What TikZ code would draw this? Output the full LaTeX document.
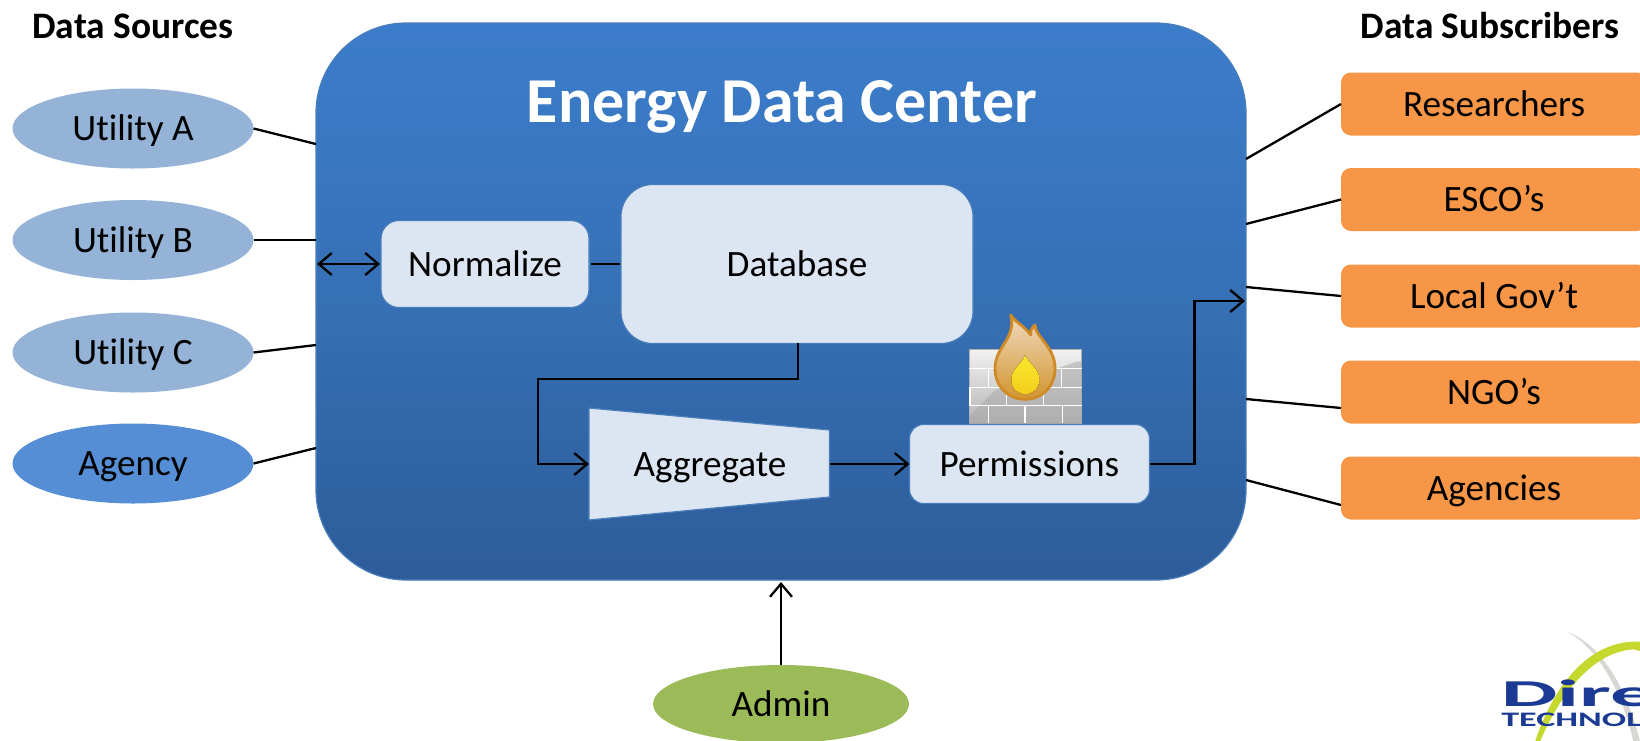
\documentclass[tikz,border=0pt]{standalone}
\usepackage{fontspec}
\setmainfont{Carlito}[RawFeature={-liga}]
\usetikzlibrary{arrows.meta,shapes.geometric,calc}
\definecolor{boxfill}{HTML}{DCE6F2}
\definecolor{boxline}{HTML}{4A7EBB}
\definecolor{util}{HTML}{95B3D7}
\definecolor{agency}{HTML}{558ED5}
\definecolor{admin}{HTML}{9BBB59}
\definecolor{sub}{HTML}{F79646}
\definecolor{logoblue}{HTML}{1B3A94}
\definecolor{logogreen}{HTML}{C4D82E}
\definecolor{logogrey}{HTML}{D9D7D3}
\definecolor{maintop}{HTML}{3C7DCB}
\definecolor{mainmid}{HTML}{3670B5}
\definecolor{mainbot}{HTML}{2D5C99}
\definecolor{walltop}{HTML}{F2F2F2}
\definecolor{wallbot}{HTML}{B4B4B4}
\definecolor{wallline}{HTML}{B0B0B0}
\definecolor{wallshade}{HTML}{A9A9A9}
\definecolor{flameline}{HTML}{D08A25}
\definecolor{flametop}{HTML}{EFD9BE}
\definecolor{flamebot}{HTML}{D2952F}
\definecolor{coretop}{HTML}{F9E82C}
\definecolor{corebot}{HTML}{F4CE1E}
\tikzset{
  x=0.5pt,y=-0.5pt,
  lbl/.style={font=\fontsize{18.6}{22}\selectfont,text=black,inner sep=0pt,outer sep=0pt,text height=12pt,text depth=0pt},
  heading/.style={font=\fontsize{18.7}{22}\selectfont\bfseries,text=black,inner sep=0pt,text height=12pt,text depth=0pt},
  ell/.style={lbl,ellipse,minimum width=120.5pt,minimum height=40pt},
  subbox/.style={lbl,rectangle,rounded corners=5pt,fill=sub,minimum width=153pt,minimum height=31.5pt},
  proc/.style={lbl,rectangle,fill=boxfill,draw=boxline,line width=0.6pt},
  conn/.style={draw=black,line width=1.15pt},
  arr/.style={conn,-{Straight Barb[length=6.5pt,width=11pt,line width=1.15pt]}},
  darr/.style={conn,{Straight Barb[length=6.5pt,width=11pt,line width=1.15pt]}-{Straight Barb[length=6.5pt,width=11pt,line width=1.15pt]}},
}
\begin{document}
\begin{tikzpicture}
\useasboundingbox (0,0) rectangle (1640,740);
\begin{scope}
\clip (0,0) rectangle (1640,740);

% main block
\node[rectangle,rounded corners=45pt,top color=maintop,bottom color=mainbot,middle color=mainmid,draw=boxline,line width=0.6pt,
  minimum width=465pt,minimum height=278.5pt,inner sep=0pt,outer sep=0pt] (main) at (781,301.5) {};
\node[font=\fontsize{32}{36}\selectfont\bfseries,text=white,inner sep=0pt,text height=20pt,text depth=0pt] (title) at (782,102) {Energy Data Center};

% headings
\node[heading] (hsrc) at (133,26) {Data Sources};
\node[heading] (hsub) at (1490,26) {Data Subscribers};

% sources
\node[ell,fill=util] (ua) at (133,128.5) {Utility A};
\node[ell,fill=util] (ub) at (133,240) {Utility B};
\node[ell,fill=util] (uc) at (133,352.5) {Utility C};
\node[ell,fill=agency] (ag) at (133,463.5) {Agency};

% subscribers
\node[subbox] (s1) at (1494,104) {Researchers};
\node[subbox] (s2) at (1494,199.5) {ESCO’s};
\node[subbox] (s3) at (1494,296) {Local Gov’t};
\node[subbox] (s4) at (1494,392) {NGO’s};
\node[subbox] (s5) at (1494,488) {Agencies};

% admin
\node[ell,fill=admin,minimum width=128pt,minimum height=39pt] (adm) at (781,704) {Admin};

% edge coordinates on the main block
\coordinate (ml1) at (316,144);
\coordinate (ml2) at (316,240);
\coordinate (ml3) at (316,345);
\coordinate (ml4) at (316,448);
\coordinate (mr1) at (1246,159);
\coordinate (mr2) at (1246,224);
\coordinate (mr3) at (1246,287);
\coordinate (mr4) at (1246,399);
\coordinate (mr5) at (1246,480);
\coordinate (mrin) at (1245,301);
\coordinate (nleft) at (317,264);
\coordinate (mbot) at (781,582);

\draw[conn] (ua.east) -- (ml1);
\draw[conn] (ub.east) -- (ml2);
\draw[conn] (uc.east) -- (ml3);
\draw[conn] (ag.east) -- (ml4);
\draw[conn] (s1.west) -- (mr1);
\draw[conn] (s2.west) -- (mr2);
\draw[conn] (s3.west) -- (mr3);
\draw[conn] ($(s4.west)+(0,16)$) -- (mr4);
\draw[conn] ($(s5.west)+(0,17)$) -- (mr5);
\draw[arr] (adm.north) -- (mbot);

% firewall icon
\begin{scope}[shift={(920,290)},x=0.1667pt,y=-0.1667pt]
  \fill[top color=walltop,bottom color=wallbot] (147,177) rectangle (485,400);
  \draw[wallline,line width=0.4pt] (147,177) rectangle (485,400);
  \fill[wallshade,opacity=.55] (147,380) -- (225,300) -- (470,215) -- (485,215) -- (485,400) -- (147,400) -- cycle;
  \draw[white,line width=0.7pt]
    (147,235)--(485,235) (147,292)--(485,292) (147,347)--(485,347)
    (205,235)--(205,292) (425,235)--(425,292) (150,292)--(150,347) (370,292)--(370,347) (260,292)--(260,347)
    (205,347)--(205,400) (315,347)--(315,400) (427,347)--(427,400);
  \draw[draw=flameline,line width=1.4pt,line join=round,top color=flametop,bottom color=flamebot]
    (272,75) .. controls (290,100) and (315,110) .. (332,135)
    .. controls (330,125) and (335,112) .. (345,105)
    .. controls (345,140) and (405,170) .. (405,235)
    .. controls (405,290) and (365,328) .. (315,328)
    .. controls (265,328) and (225,290) .. (225,235)
    .. controls (225,170) and (290,145) .. (272,75) -- cycle;
  \fill[top color=coretop,bottom color=corebot]
    (315,195) .. controls (325,220) and (358,235) .. (358,268)
    .. controls (358,295) and (340,312) .. (316,312)
    .. controls (292,312) and (274,295) .. (274,268)
    .. controls (274,235) and (305,225) .. (315,195) -- cycle;
\end{scope}

% process blocks
\node[proc,rounded corners=9pt,minimum width=104pt,minimum height=43.5pt] (norm) at (485,264) {Normalize};
\node[proc,rounded corners=16pt,minimum width=176pt,minimum height=79.5pt] (db) at (797,264) {Database};
\node[proc,rounded corners=7pt,minimum width=120pt,minimum height=39.5pt] (perm) at (1029.5,464) {Permissions};

\coordinate (a1) at (589,408);
\coordinate (a2) at (829.5,430);
\coordinate (a3) at (829.5,497);
\coordinate (a4) at (589,520);
\path[fill=boxfill,draw=boxline,line width=0.6pt] (a1) -- (a2) -- (a3) -- (a4) -- cycle;
\node[lbl] (agg) at (710,464) {Aggregate};
\coordinate (ain) at (589,464);
\coordinate (aout) at (829.5,464);
\coordinate (dbout) at (798,343);
\coordinate (fold) at (538,379);

\draw[darr] (nleft) -- ($(norm.west)+(-1,0)$);
\draw[conn] ($(norm.east)+(2,0)$) -- ($(db.west)+(-1,0)$);
\draw[arr] (dbout) -- (dbout |- fold) -- (fold) -- (fold |- ain) -- (ain);
\draw[arr] (aout) -- (perm.west);
\coordinate (pbend) at (1194.5,301);
\draw[arr] (perm.east) -- (pbend |- perm.east) -- (pbend) -- (mrin);

% logo
\begin{scope}[shift={(1470,610)},x=0.1667pt,y=-0.1667pt]
  \fill[logogrey] (290,65) .. controls (390,100) and (470,230) .. (510,395) -- (490,395) .. controls (455,240) and (380,110) .. (290,65) -- cycle;
  \fill[logogreen] (195,395) .. controls (250,230) and (350,100) .. (490,95) -- (520,95) -- (520,125) -- (490,118) .. controls (375,125) and (275,240) .. (210,395) -- cycle;
  \node[anchor=base west,inner sep=0pt,text=logoblue,font=\fontsize{19}{19}\selectfont\bfseries,xscale=2.35] (dire) at (92,290) {Dire};
  \node[anchor=base west,inner sep=0pt,text=logoblue,font=\fontsize{10.3}{11}\selectfont\bfseries,xscale=1.75] (tech) at (92,350) {TECHNOL};
\end{scope}
\end{scope}
\end{tikzpicture}
\end{document}
